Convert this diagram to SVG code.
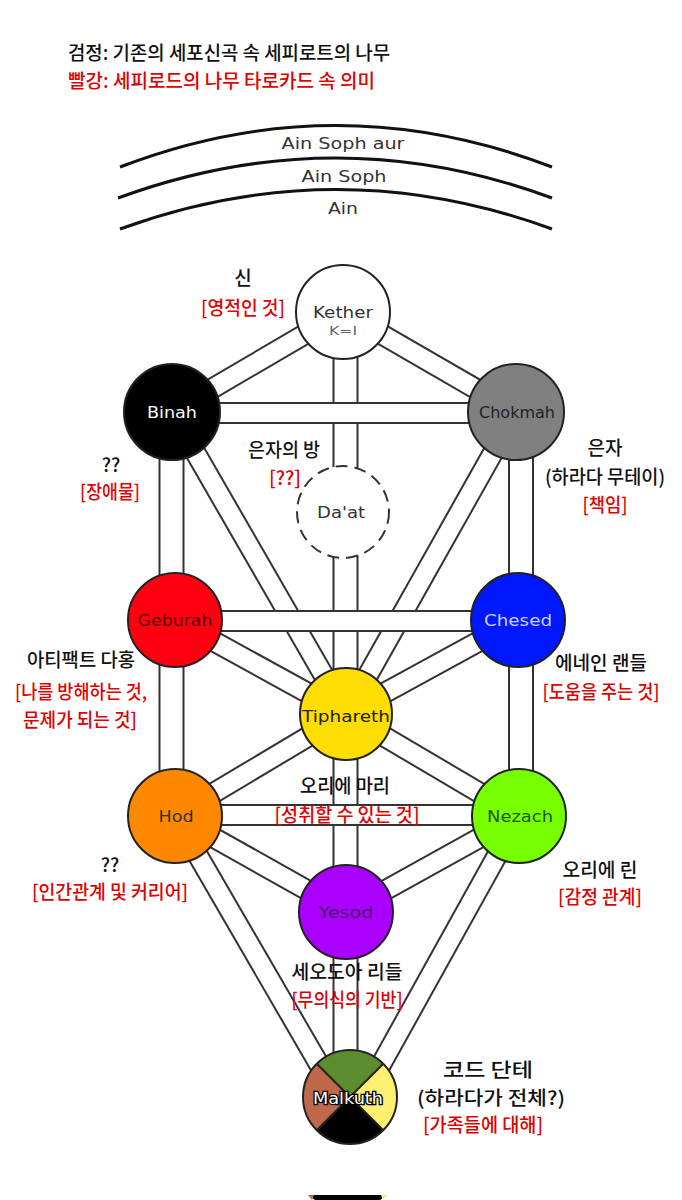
<svg xmlns="http://www.w3.org/2000/svg" width="682" height="1200" viewBox="0 0 682 1200">
<style>
.bo{stroke:#333;stroke-width:22;fill:none}
.bi{stroke:#fff;stroke-width:18;fill:none}
.vo{stroke:#333;stroke-width:26;fill:none}
.vi{stroke:#fff;stroke-width:22;fill:none}
.arc{stroke:#111;stroke-width:3;fill:none}
.ko{font-family:"Noto Sans CJK KR","Noto Sans",sans-serif;font-size:19px;font-weight:500;text-anchor:middle;fill:#111}
.kr{font-family:"Noto Sans CJK KR","Noto Sans",sans-serif;font-size:19px;font-weight:500;text-anchor:middle;fill:#e00000}
.hd{font-family:"Noto Sans CJK KR","Noto Sans",sans-serif;font-size:19px;font-weight:500}
.nl{font-family:"DejaVu Sans",sans-serif;font-size:16px;text-anchor:middle}
.node{stroke:#222;stroke-width:2}
</style>
<rect width="682" height="1200" fill="#fff"/>
<g id="header">
<text class="hd" x="68" y="60" fill="#111" textLength="322" lengthAdjust="spacingAndGlyphs">검정: 기존의 세포신곡 속 세피로트의 나무</text>
<text class="hd" x="68" y="88" fill="#e00000" textLength="307" lengthAdjust="spacingAndGlyphs">빨강: 세피로드의 나무 타로카드 속 의미</text>
</g>
<g id="arcs">
<path class="arc" d="M120,167 Q336,84 552,167"/>
<path class="arc" d="M118,198 Q336,118 552,198"/>
<path class="arc" d="M120,229 Q336,150 552,229"/>
<text class="nl" x="343" y="149" fill="#333" textLength="123" lengthAdjust="spacingAndGlyphs">Ain Soph aur</text>
<text class="nl" x="344" y="182" fill="#333" textLength="85" lengthAdjust="spacingAndGlyphs">Ain Soph</text>
<text class="nl" x="343" y="214" fill="#333" textLength="30" lengthAdjust="spacingAndGlyphs">Ain</text>
</g>
<g id="connectors">
<line class="vo" x1="345.5" y1="312" x2="345.5" y2="714"/><line class="vi" x1="345.5" y1="312" x2="345.5" y2="714"/>
<line class="vo" x1="345.5" y1="714" x2="345.5" y2="1097"/><line class="vi" x1="345.5" y1="714" x2="345.5" y2="1097"/>
<line class="vo" x1="171.5" y1="412" x2="171.5" y2="816"/><line class="vi" x1="171.5" y1="412" x2="171.5" y2="816"/>
<line class="vo" x1="521" y1="412" x2="521" y2="816"/><line class="vi" x1="521" y1="412" x2="521" y2="816"/>
<line class="bo" x1="343" y1="312" x2="172" y2="412"/><line class="bi" x1="343" y1="312" x2="172" y2="412"/>
<line class="bo" x1="343" y1="312" x2="516" y2="412"/><line class="bi" x1="343" y1="312" x2="516" y2="412"/>
<line class="bo" x1="172" y1="412" x2="346" y2="714"/><line class="bi" x1="172" y1="412" x2="346" y2="714"/>
<line class="bo" x1="516" y1="412" x2="346" y2="714"/><line class="bi" x1="516" y1="412" x2="346" y2="714"/>
<line class="bo" x1="175" y1="620" x2="346" y2="714"/><line class="bi" x1="175" y1="620" x2="346" y2="714"/>
<line class="bo" x1="518" y1="620" x2="346" y2="714"/><line class="bi" x1="518" y1="620" x2="346" y2="714"/>
<line class="bo" x1="175" y1="816" x2="346" y2="714"/><line class="bi" x1="175" y1="816" x2="346" y2="714"/>
<line class="bo" x1="519" y1="816" x2="346" y2="714"/><line class="bi" x1="519" y1="816" x2="346" y2="714"/>
<line class="bo" x1="175" y1="816" x2="346" y2="912"/><line class="bi" x1="175" y1="816" x2="346" y2="912"/>
<line class="bo" x1="519" y1="816" x2="346" y2="912"/><line class="bi" x1="519" y1="816" x2="346" y2="912"/>
<line class="bo" x1="175" y1="816" x2="338" y2="1097"/><line class="bi" x1="175" y1="816" x2="338" y2="1097"/>
<line class="bo" x1="519" y1="816" x2="363" y2="1097"/><line class="bi" x1="519" y1="816" x2="363" y2="1097"/>
<line class="bo" x1="172" y1="413" x2="516" y2="413"/><line class="bi" x1="172" y1="413" x2="516" y2="413"/>
<line class="bo" x1="175" y1="621" x2="518" y2="621"/><line class="bi" x1="175" y1="621" x2="518" y2="621"/>
<line class="bo" x1="175" y1="815" x2="519" y2="815"/><line class="bi" x1="175" y1="815" x2="519" y2="815"/>
</g>
<g id="kether">
<circle class="node" cx="343" cy="312" r="47" fill="#fff"/>
<text class="nl" x="343" y="318" fill="#333" textLength="60" lengthAdjust="spacingAndGlyphs">Kether</text>
<text class="nl" x="343" y="335" fill="#666" style="font-size:12px" textLength="28" lengthAdjust="spacingAndGlyphs">K=I</text>
</g>
<g id="binah">
<circle class="node" cx="172" cy="412" r="48" fill="#000"/>
<text class="nl" x="172" y="418" fill="#fff" textLength="50" lengthAdjust="spacingAndGlyphs">Binah</text>
</g>
<g id="chokmah">
<circle class="node" cx="516" cy="412" r="48" fill="#808080"/>
<text class="nl" x="517" y="418" fill="#222" textLength="76" lengthAdjust="spacingAndGlyphs">Chokmah</text>
</g>
<g id="daat">
<circle cx="343" cy="512" r="46" fill="#fff" stroke="#333" stroke-width="2" stroke-dasharray="12,7"/>
<text class="nl" x="341" y="518" fill="#333" textLength="48" lengthAdjust="spacingAndGlyphs">Da'at</text>
</g>
<g id="geburah">
<circle class="node" cx="175" cy="620" r="47" fill="#ff0010"/>
<text class="nl" x="175" y="626" fill="#5a0000" textLength="75" lengthAdjust="spacingAndGlyphs">Geburah</text>
</g>
<g id="chesed">
<circle class="node" cx="518" cy="620" r="47" fill="#0018ff"/>
<text class="nl" x="518" y="626" fill="#c8d4ff" textLength="68" lengthAdjust="spacingAndGlyphs">Chesed</text>
</g>
<g id="tiphareth">
<circle class="node" cx="346" cy="714" r="46" fill="#ffdd00"/>
<text class="nl" x="346" y="722" fill="#222" textLength="88" lengthAdjust="spacingAndGlyphs">Tiphareth</text>
</g>
<g id="hod">
<circle class="node" cx="175" cy="816" r="47" fill="#ff8800"/>
<text class="nl" x="176" y="822" fill="#333" textLength="35" lengthAdjust="spacingAndGlyphs">Hod</text>
</g>
<g id="nezach">
<circle class="node" cx="519" cy="816" r="47" fill="#77ff00"/>
<text class="nl" x="520" y="822" fill="#1e5a00" textLength="66" lengthAdjust="spacingAndGlyphs">Nezach</text>
</g>
<g id="yesod">
<circle class="node" cx="346" cy="912" r="47" fill="#aa00ff"/>
<text class="nl" x="346" y="918" fill="#4a1a6a" textLength="55" lengthAdjust="spacingAndGlyphs">Yesod</text>
</g>
<g id="malkuth">
<clipPath id="mc"><circle cx="350" cy="1097" r="47"/></clipPath>
<g clip-path="url(#mc)">
<polygon points="350,1097 290,1037 410,1037" fill="#5b8c2e"/>
<polygon points="350,1097 410,1037 410,1157" fill="#ffef70"/>
<polygon points="350,1097 410,1157 290,1157" fill="#000"/>
<polygon points="350,1097 290,1157 290,1037" fill="#c0694a"/>
<line x1="290" y1="1037" x2="410" y2="1157" stroke="#222" stroke-width="2"/>
<line x1="410" y1="1037" x2="290" y2="1157" stroke="#222" stroke-width="2"/>
</g>
<circle cx="350" cy="1097" r="47" fill="none" stroke="#222" stroke-width="2"/>
<text class="nl" x="348" y="1104" fill="#fff" stroke="#000" stroke-width="2.5" paint-order="stroke" textLength="70" lengthAdjust="spacingAndGlyphs">Malkuth</text>
</g>
<g id="labels">
<text class="ko" x="243" y="285">신</text>
<text class="kr" x="243" y="315" textLength="84" lengthAdjust="spacingAndGlyphs">[영적인 것]</text>
<text class="ko" x="284" y="457" textLength="72" lengthAdjust="spacingAndGlyphs">은자의 방</text>
<text class="kr" x="285" y="485">[??]</text>
<text class="ko" x="111" y="472">??</text>
<text class="kr" x="110" y="499" textLength="60" lengthAdjust="spacingAndGlyphs">[장애물]</text>
<text class="ko" x="605" y="455" textLength="35" lengthAdjust="spacingAndGlyphs">은자</text>
<text class="ko" x="605" y="484" textLength="120" lengthAdjust="spacingAndGlyphs">(하라다 무테이)</text>
<text class="kr" x="605" y="512" textLength="45" lengthAdjust="spacingAndGlyphs">[책임]</text>
<text class="ko" x="81" y="667" textLength="108" lengthAdjust="spacingAndGlyphs">아티팩트 다홍</text>
<text class="kr" x="81" y="699" textLength="132" lengthAdjust="spacingAndGlyphs">[나를 방해하는 것,</text>
<text class="kr" x="80" y="727" textLength="114" lengthAdjust="spacingAndGlyphs">문제가 되는 것]</text>
<text class="ko" x="601" y="670" textLength="92" lengthAdjust="spacingAndGlyphs">에네인 랜들</text>
<text class="kr" x="601" y="699" textLength="117" lengthAdjust="spacingAndGlyphs">[도움을 주는 것]</text>
<text class="ko" x="345" y="793" textLength="90" lengthAdjust="spacingAndGlyphs">오리에 마리</text>
<text class="kr" x="347" y="822" textLength="145" lengthAdjust="spacingAndGlyphs">[성취할 수 있는 것]</text>
<text class="ko" x="110" y="872">??</text>
<text class="kr" x="110" y="899" textLength="156" lengthAdjust="spacingAndGlyphs">[인간관계 및 커리어]</text>
<text class="ko" x="600" y="877" textLength="75" lengthAdjust="spacingAndGlyphs">오리에 린</text>
<text class="kr" x="600" y="904" textLength="84" lengthAdjust="spacingAndGlyphs">[감정 관계]</text>
<text class="ko" x="347" y="979" textLength="111" lengthAdjust="spacingAndGlyphs">세오도아 리들</text>
<text class="kr" x="347" y="1007" textLength="111" lengthAdjust="spacingAndGlyphs">[무의식의 기반]</text>
<text class="ko" x="488" y="1077" textLength="90" lengthAdjust="spacingAndGlyphs">코드 단테</text>
<text class="ko" x="491" y="1105" textLength="148" lengthAdjust="spacingAndGlyphs">(하라다가 전체?)</text>
<text class="kr" x="483" y="1132" textLength="120" lengthAdjust="spacingAndGlyphs">[가족들에 대해]</text>
</g>
<g id="cropped">
<polygon points="308,1195 387,1195 380,1200 315,1200" fill="#000"/>
<polygon points="308,1195 314,1195 312,1200" fill="#c0694a"/>
<polygon points="381,1195 387,1195 383,1200" fill="#ffef70"/>
</g>
</svg>
